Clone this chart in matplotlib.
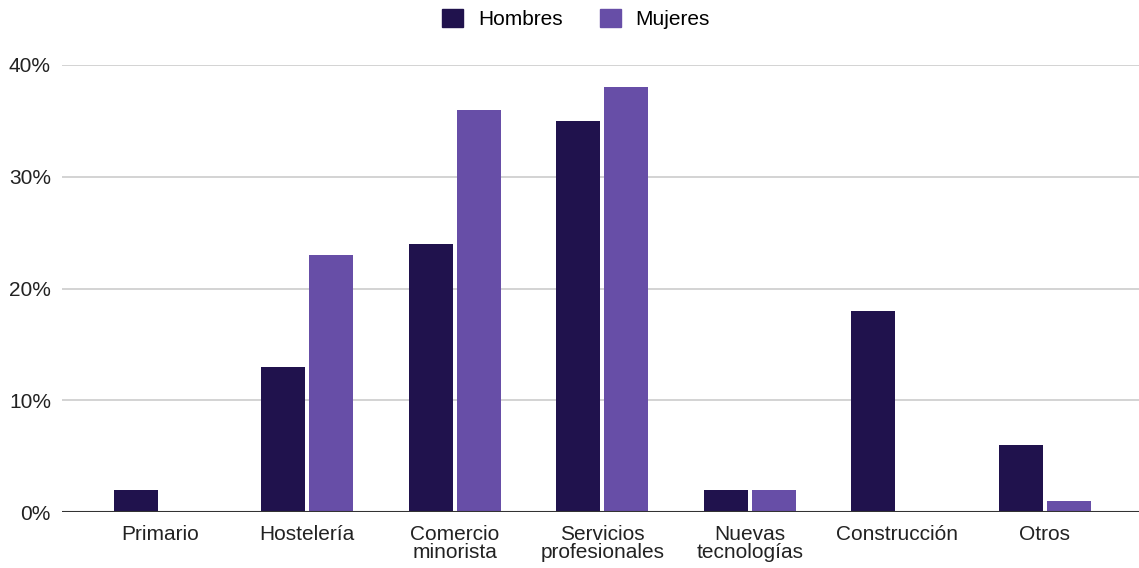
import matplotlib.pyplot as plt
import matplotlib.patches as mpatches
import numpy as np

plt.rcParams['font.family'] = ['Liberation Sans', 'DejaVu Sans']

sectores = ["Primario", "Hostelería", "Comercio\nminorista", "Servicios\nprofesionales",
            "Nuevas\ntecnologías", "Construcción", "Otros"]
hombres = [2, 13, 24, 35, 2, 18, 6]
mujeres = [0, 23, 36, 38, 2, 0, 1]

color_h = "#20124d"
color_m = "#674ea7"

fig = plt.figure(figsize=(11.39, 5.68), dpi=100)
ax = fig.add_axes([62 / 1139, 56 / 568, 1 - 62 / 1139, 447 / 568])

x = np.arange(len(sectores))
ancho = 0.298
ax.bar(x - 0.163, hombres, ancho, color=color_h, zorder=3)
ax.bar(x + 0.163, mujeres, ancho, color=color_m, zorder=3)

ax.set_xlim(-0.663, 6.64)
ax.set_ylim(0, 40)
ax.set_yticks([0, 10, 20, 30, 40])
ax.set_yticklabels(["0%", "10%", "20%", "30%", "40%"])
ax.set_xticks(x)
ax.set_xticklabels(sectores, linespacing=0.95)

ax.grid(axis="y", color="#cccccc", linewidth=1.2, zorder=0)
ax.axhline(0, color="#333333", linewidth=1.5, zorder=4)
for lado in ["top", "right", "left", "bottom"]:
    ax.spines[lado].set_visible(False)
ax.tick_params(axis="both", length=0, labelsize=15, colors="#222222")
ax.tick_params(axis="y", pad=8)
ax.tick_params(axis="x", pad=9)

handles = [mpatches.Patch(color=color_h, label="Hombres"),
           mpatches.Patch(color=color_m, label="Mujeres")]
fig.legend(handles=handles, loc="center", bbox_to_anchor=(576 / 1139, 1 - 19 / 568),
           ncol=2, frameon=False, fontsize=15, handlelength=1.0, handleheight=1.0,
           handletextpad=0.7, columnspacing=1.8)

fig.savefig("out.png", dpi=100)
